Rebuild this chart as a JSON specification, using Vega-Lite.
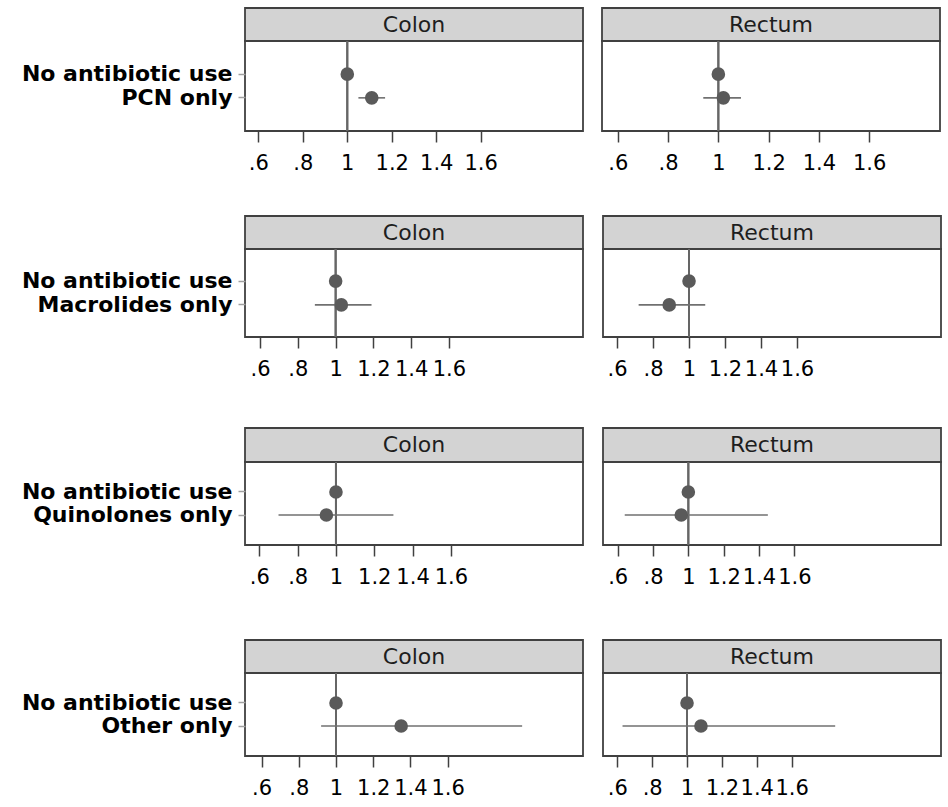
{
  "$schema": "https://vega.github.io/schema/vega-lite/v6.json",
  "background": "white",
  "padding": {"left": 20, "top": 7, "right": 5, "bottom": 8},
  "datasets": {
    "hr": [
      {"drug": "PCN", "site": "Colon", "group": "No antibiotic use", "hr": 1, "lo": null, "hi": null},
      {"drug": "PCN", "site": "Colon", "group": "PCN only", "hr": 1.11, "lo": 1.05, "hi": 1.17},
      {"drug": "PCN", "site": "Rectum", "group": "No antibiotic use", "hr": 1, "lo": null, "hi": null},
      {"drug": "PCN", "site": "Rectum", "group": "PCN only", "hr": 1.02, "lo": 0.94, "hi": 1.09},
      {"drug": "Macrolides", "site": "Colon", "group": "No antibiotic use", "hr": 1, "lo": null, "hi": null},
      {"drug": "Macrolides", "site": "Colon", "group": "Macrolides only", "hr": 1.03, "lo": 0.89, "hi": 1.19},
      {"drug": "Macrolides", "site": "Rectum", "group": "No antibiotic use", "hr": 1, "lo": null, "hi": null},
      {"drug": "Macrolides", "site": "Rectum", "group": "Macrolides only", "hr": 0.89, "lo": 0.72, "hi": 1.09},
      {"drug": "Quinolones", "site": "Colon", "group": "No antibiotic use", "hr": 1, "lo": null, "hi": null},
      {"drug": "Quinolones", "site": "Colon", "group": "Quinolones only", "hr": 0.95, "lo": 0.70, "hi": 1.30},
      {"drug": "Quinolones", "site": "Rectum", "group": "No antibiotic use", "hr": 1, "lo": null, "hi": null},
      {"drug": "Quinolones", "site": "Rectum", "group": "Quinolones only", "hr": 0.96, "lo": 0.64, "hi": 1.45},
      {"drug": "Other", "site": "Colon", "group": "No antibiotic use", "hr": 1, "lo": null, "hi": null},
      {"drug": "Other", "site": "Colon", "group": "Other only", "hr": 1.35, "lo": 0.92, "hi": 2.00},
      {"drug": "Other", "site": "Rectum", "group": "No antibiotic use", "hr": 1, "lo": null, "hi": null},
      {"drug": "Other", "site": "Rectum", "group": "Other only", "hr": 1.08, "lo": 0.63, "hi": 1.85}
    ]
  },
  "config": {
    "font": "DejaVu Sans",
    "view": {"stroke": null},
    "axis": {"grid": false, "domain": false},
    "axisX": {"tickSize": 11, "tickColor": "#404040", "tickWidth": 1.5, "labelFontSize": 21, "labelColor": "#000000", "labelPadding": 10, "labelFlush": false, "labelOverlap": false, "labelBound": false},
    "axisY": {"tickSize": 7, "tickColor": "#a0a0a0", "tickWidth": 1.5, "labelFontSize": 22, "labelFontWeight": "bold", "labelColor": "#000000", "labelPadding": 6, "labelLimit": 400}
  },
  "spacing": 41,
  "vconcat": [
    {
      "spacing": 17,
      "hconcat": [
        {
          "spacing": 0, "bounds": "flush",
          "vconcat": [
            {"width": 338, "height": 33, "view": {"fill": "#d3d3d3", "stroke": "#404040", "strokeWidth": 1.8},
             "data": {"name": "hr"},
             "transform": [{"filter": "datum.drug === 'PCN' && datum.site === 'Colon' && datum.lo === null"}],
             "mark": {"type": "text", "fontSize": 22, "color": "#1e1e1e", "baseline": "middle", "align": "center"},
             "encoding": {"text": {"field": "site"}}},
            {"width": 338, "height": 90, "view": {"fill": "#ffffff", "stroke": "#404040", "strokeWidth": 1.8},
             "data": {"name": "hr"},
             "transform": [{"filter": "datum.drug === 'PCN' && datum.site === 'Colon'"}],
             "layer": [
               {"mark": {"type": "rule", "color": "#666666", "strokeWidth": 2},
                "encoding": {"x": {"datum": 1, "type": "quantitative", "title": null, "scale": {"domain": [0.54, 2.06], "nice": false, "zero": false}, "axis": {"values": [0.6, 0.8, 1, 1.2, 1.4, 1.6], "labelExpr": "datum.value < 1 ? replace(format(datum.value, '.1f'), '0.', '.') : format(datum.value, '.1~f')"}}}},
               {"mark": {"type": "rule", "color": "#707070", "strokeWidth": 1.6},
                "encoding": {"x": {"field": "lo", "type": "quantitative", "title": null, "scale": {"domain": [0.54, 2.06], "nice": false, "zero": false}},
                             "x2": {"field": "hi"},
                             "y": {"field": "group", "type": "nominal", "sort": null, "title": null, "scale": {"type": "band", "domain": ["No antibiotic use", "PCN only"], "paddingInner": 0, "paddingOuter": 0.9}}}},
               {"mark": {"type": "circle", "size": 185, "color": "#5a5a5a", "opacity": 1},
                "encoding": {"x": {"field": "hr", "type": "quantitative", "title": null, "scale": {"domain": [0.54, 2.06], "nice": false, "zero": false}},
                             "y": {"field": "group", "type": "nominal", "sort": null, "title": null, "scale": {"type": "band", "domain": ["No antibiotic use", "PCN only"], "paddingInner": 0, "paddingOuter": 0.9}}}}
             ]}
          ]
        },
        {
          "spacing": 0, "bounds": "flush",
          "vconcat": [
            {"width": 338, "height": 33, "view": {"fill": "#d3d3d3", "stroke": "#404040", "strokeWidth": 1.8},
             "data": {"name": "hr"},
             "transform": [{"filter": "datum.drug === 'PCN' && datum.site === 'Rectum' && datum.lo === null"}],
             "mark": {"type": "text", "fontSize": 22, "color": "#1e1e1e", "baseline": "middle", "align": "center"},
             "encoding": {"text": {"field": "site"}}},
            {"width": 338, "height": 90, "view": {"fill": "#ffffff", "stroke": "#404040", "strokeWidth": 1.8},
             "data": {"name": "hr"},
             "transform": [{"filter": "datum.drug === 'PCN' && datum.site === 'Rectum'"}],
             "layer": [
               {"mark": {"type": "rule", "color": "#666666", "strokeWidth": 2},
                "encoding": {"x": {"datum": 1, "type": "quantitative", "title": null, "scale": {"domain": [0.537, 1.882], "nice": false, "zero": false}, "axis": {"values": [0.6, 0.8, 1, 1.2, 1.4, 1.6], "labelExpr": "datum.value < 1 ? replace(format(datum.value, '.1f'), '0.', '.') : format(datum.value, '.1~f')"}}}},
               {"mark": {"type": "rule", "color": "#707070", "strokeWidth": 1.6},
                "encoding": {"x": {"field": "lo", "type": "quantitative", "title": null, "scale": {"domain": [0.537, 1.882], "nice": false, "zero": false}},
                             "x2": {"field": "hi"},
                             "y": {"field": "group", "type": "nominal", "sort": null, "title": null, "axis": null, "scale": {"type": "band", "domain": ["No antibiotic use", "PCN only"], "paddingInner": 0, "paddingOuter": 0.9}}}},
               {"mark": {"type": "circle", "size": 185, "color": "#5a5a5a", "opacity": 1},
                "encoding": {"x": {"field": "hr", "type": "quantitative", "title": null, "scale": {"domain": [0.537, 1.882], "nice": false, "zero": false}},
                             "y": {"field": "group", "type": "nominal", "sort": null, "title": null, "axis": null, "scale": {"type": "band", "domain": ["No antibiotic use", "PCN only"], "paddingInner": 0, "paddingOuter": 0.9}}}}
             ]}
          ]
        }
      ]
    },
    {
      "spacing": 47,
      "vconcat": [
        {
          "spacing": 18,
          "hconcat": [
            {
              "spacing": 0, "bounds": "flush",
              "vconcat": [
                {"width": 338, "height": 33, "view": {"fill": "#d3d3d3", "stroke": "#404040", "strokeWidth": 1.8},
                 "data": {"name": "hr"},
                 "transform": [{"filter": "datum.drug === 'Macrolides' && datum.site === 'Colon' && datum.lo === null"}],
                 "mark": {"type": "text", "fontSize": 22, "color": "#1e1e1e", "baseline": "middle", "align": "center"},
                 "encoding": {"text": {"field": "site"}}},
                {"width": 338, "height": 88, "view": {"fill": "#ffffff", "stroke": "#404040", "strokeWidth": 1.8},
                 "data": {"name": "hr"},
                 "transform": [{"filter": "datum.drug === 'Macrolides' && datum.site === 'Colon'"}],
                 "layer": [
                   {"mark": {"type": "rule", "color": "#666666", "strokeWidth": 2},
                    "encoding": {"x": {"datum": 1, "type": "quantitative", "title": null, "scale": {"domain": [0.52, 2.31], "nice": false, "zero": false}, "axis": {"values": [0.6, 0.8, 1, 1.2, 1.4, 1.6], "labelExpr": "datum.value < 1 ? replace(format(datum.value, '.1f'), '0.', '.') : format(datum.value, '.1~f')"}}}},
                   {"mark": {"type": "rule", "color": "#707070", "strokeWidth": 1.6},
                    "encoding": {"x": {"field": "lo", "type": "quantitative", "title": null, "scale": {"domain": [0.52, 2.31], "nice": false, "zero": false}},
                                 "x2": {"field": "hi"},
                                 "y": {"field": "group", "type": "nominal", "sort": null, "title": null, "scale": {"type": "band", "domain": ["No antibiotic use", "Macrolides only"], "paddingInner": 0, "paddingOuter": 0.85}}}},
                   {"mark": {"type": "circle", "size": 185, "color": "#5a5a5a", "opacity": 1},
                    "encoding": {"x": {"field": "hr", "type": "quantitative", "title": null, "scale": {"domain": [0.52, 2.31], "nice": false, "zero": false}},
                                 "y": {"field": "group", "type": "nominal", "sort": null, "title": null, "scale": {"type": "band", "domain": ["No antibiotic use", "Macrolides only"], "paddingInner": 0, "paddingOuter": 0.85}}}}
                 ]}
              ]
            },
            {
              "spacing": 0, "bounds": "flush",
              "vconcat": [
                {"width": 338, "height": 33, "view": {"fill": "#d3d3d3", "stroke": "#404040", "strokeWidth": 1.8},
                 "data": {"name": "hr"},
                 "transform": [{"filter": "datum.drug === 'Macrolides' && datum.site === 'Rectum' && datum.lo === null"}],
                 "mark": {"type": "text", "fontSize": 22, "color": "#1e1e1e", "baseline": "middle", "align": "center"},
                 "encoding": {"text": {"field": "site"}}},
                {"width": 338, "height": 88, "view": {"fill": "#ffffff", "stroke": "#404040", "strokeWidth": 1.8},
                 "data": {"name": "hr"},
                 "transform": [{"filter": "datum.drug === 'Macrolides' && datum.site === 'Rectum'"}],
                 "layer": [
                   {"mark": {"type": "rule", "color": "#666666", "strokeWidth": 2},
                    "encoding": {"x": {"datum": 1, "type": "quantitative", "title": null, "scale": {"domain": [0.522, 2.40], "nice": false, "zero": false}, "axis": {"values": [0.6, 0.8, 1, 1.2, 1.4, 1.6], "labelExpr": "datum.value < 1 ? replace(format(datum.value, '.1f'), '0.', '.') : format(datum.value, '.1~f')"}}}},
                   {"mark": {"type": "rule", "color": "#707070", "strokeWidth": 1.6},
                    "encoding": {"x": {"field": "lo", "type": "quantitative", "title": null, "scale": {"domain": [0.522, 2.40], "nice": false, "zero": false}},
                                 "x2": {"field": "hi"},
                                 "y": {"field": "group", "type": "nominal", "sort": null, "title": null, "axis": null, "scale": {"type": "band", "domain": ["No antibiotic use", "Macrolides only"], "paddingInner": 0, "paddingOuter": 0.85}}}},
                   {"mark": {"type": "circle", "size": 185, "color": "#5a5a5a", "opacity": 1},
                    "encoding": {"x": {"field": "hr", "type": "quantitative", "title": null, "scale": {"domain": [0.522, 2.40], "nice": false, "zero": false}},
                                 "y": {"field": "group", "type": "nominal", "sort": null, "title": null, "axis": null, "scale": {"type": "band", "domain": ["No antibiotic use", "Macrolides only"], "paddingInner": 0, "paddingOuter": 0.85}}}}
                 ]}
              ]
            }
          ]
        },
        {
          "spacing": 51,
          "vconcat": [
            {
              "spacing": 18,
              "hconcat": [
                {
                  "spacing": 0, "bounds": "flush",
                  "vconcat": [
                    {"width": 338, "height": 34, "view": {"fill": "#d3d3d3", "stroke": "#404040", "strokeWidth": 1.8},
                     "data": {"name": "hr"},
                     "transform": [{"filter": "datum.drug === 'Quinolones' && datum.site === 'Colon' && datum.lo === null"}],
                     "mark": {"type": "text", "fontSize": 22, "color": "#1e1e1e", "baseline": "middle", "align": "center"},
                     "encoding": {"text": {"field": "site"}}},
                    {"width": 338, "height": 83, "view": {"fill": "#ffffff", "stroke": "#404040", "strokeWidth": 1.8},
                     "data": {"name": "hr"},
                     "transform": [{"filter": "datum.drug === 'Quinolones' && datum.site === 'Colon'"}],
                     "layer": [
                       {"mark": {"type": "rule", "color": "#666666", "strokeWidth": 2},
                        "encoding": {"x": {"datum": 1, "type": "quantitative", "title": null, "scale": {"domain": [0.525, 2.29], "nice": false, "zero": false}, "axis": {"values": [0.6, 0.8, 1, 1.2, 1.4, 1.6], "labelExpr": "datum.value < 1 ? replace(format(datum.value, '.1f'), '0.', '.') : format(datum.value, '.1~f')"}}}},
                       {"mark": {"type": "rule", "color": "#707070", "strokeWidth": 1.6},
                        "encoding": {"x": {"field": "lo", "type": "quantitative", "title": null, "scale": {"domain": [0.525, 2.29], "nice": false, "zero": false}},
                                     "x2": {"field": "hi"},
                                     "y": {"field": "group", "type": "nominal", "sort": null, "title": null, "scale": {"type": "band", "domain": ["No antibiotic use", "Quinolones only"], "paddingInner": 0, "paddingOuter": 0.8}}}},
                       {"mark": {"type": "circle", "size": 185, "color": "#5a5a5a", "opacity": 1},
                        "encoding": {"x": {"field": "hr", "type": "quantitative", "title": null, "scale": {"domain": [0.525, 2.29], "nice": false, "zero": false}},
                                     "y": {"field": "group", "type": "nominal", "sort": null, "title": null, "scale": {"type": "band", "domain": ["No antibiotic use", "Quinolones only"], "paddingInner": 0, "paddingOuter": 0.8}}}}
                     ]}
                  ]
                },
                {
                  "spacing": 0, "bounds": "flush",
                  "vconcat": [
                    {"width": 338, "height": 34, "view": {"fill": "#d3d3d3", "stroke": "#404040", "strokeWidth": 1.8},
                     "data": {"name": "hr"},
                     "transform": [{"filter": "datum.drug === 'Quinolones' && datum.site === 'Rectum' && datum.lo === null"}],
                     "mark": {"type": "text", "fontSize": 22, "color": "#1e1e1e", "baseline": "middle", "align": "center"},
                     "encoding": {"text": {"field": "site"}}},
                    {"width": 338, "height": 83, "view": {"fill": "#ffffff", "stroke": "#404040", "strokeWidth": 1.8},
                     "data": {"name": "hr"},
                     "transform": [{"filter": "datum.drug === 'Quinolones' && datum.site === 'Rectum'"}],
                     "layer": [
                       {"mark": {"type": "rule", "color": "#666666", "strokeWidth": 2},
                        "encoding": {"x": {"datum": 1, "type": "quantitative", "title": null, "scale": {"domain": [0.517, 2.43], "nice": false, "zero": false}, "axis": {"values": [0.6, 0.8, 1, 1.2, 1.4, 1.6], "labelExpr": "datum.value < 1 ? replace(format(datum.value, '.1f'), '0.', '.') : format(datum.value, '.1~f')"}}}},
                       {"mark": {"type": "rule", "color": "#707070", "strokeWidth": 1.6},
                        "encoding": {"x": {"field": "lo", "type": "quantitative", "title": null, "scale": {"domain": [0.517, 2.43], "nice": false, "zero": false}},
                                     "x2": {"field": "hi"},
                                     "y": {"field": "group", "type": "nominal", "sort": null, "title": null, "axis": null, "scale": {"type": "band", "domain": ["No antibiotic use", "Quinolones only"], "paddingInner": 0, "paddingOuter": 0.8}}}},
                       {"mark": {"type": "circle", "size": 185, "color": "#5a5a5a", "opacity": 1},
                        "encoding": {"x": {"field": "hr", "type": "quantitative", "title": null, "scale": {"domain": [0.517, 2.43], "nice": false, "zero": false}},
                                     "y": {"field": "group", "type": "nominal", "sort": null, "title": null, "axis": null, "scale": {"type": "band", "domain": ["No antibiotic use", "Quinolones only"], "paddingInner": 0, "paddingOuter": 0.8}}}}
                     ]}
                  ]
                }
              ]
            },
            {
              "spacing": 18,
              "hconcat": [
                {
                  "spacing": 0, "bounds": "flush",
                  "vconcat": [
                    {"width": 338, "height": 33, "view": {"fill": "#d3d3d3", "stroke": "#404040", "strokeWidth": 1.8},
                     "data": {"name": "hr"},
                     "transform": [{"filter": "datum.drug === 'Other' && datum.site === 'Colon' && datum.lo === null"}],
                     "mark": {"type": "text", "fontSize": 22, "color": "#1e1e1e", "baseline": "middle", "align": "center"},
                     "encoding": {"text": {"field": "site"}}},
                    {"width": 338, "height": 83, "view": {"fill": "#ffffff", "stroke": "#404040", "strokeWidth": 1.8},
                     "data": {"name": "hr"},
                     "transform": [{"filter": "datum.drug === 'Other' && datum.site === 'Colon'"}],
                     "layer": [
                       {"mark": {"type": "rule", "color": "#666666", "strokeWidth": 2},
                        "encoding": {"x": {"datum": 1, "type": "quantitative", "title": null, "scale": {"domain": [0.511, 2.327], "nice": false, "zero": false}, "axis": {"values": [0.6, 0.8, 1, 1.2, 1.4, 1.6], "labelExpr": "datum.value < 1 ? replace(format(datum.value, '.1f'), '0.', '.') : format(datum.value, '.1~f')"}}}},
                       {"mark": {"type": "rule", "color": "#707070", "strokeWidth": 1.6},
                        "encoding": {"x": {"field": "lo", "type": "quantitative", "title": null, "scale": {"domain": [0.511, 2.327], "nice": false, "zero": false}},
                                     "x2": {"field": "hi"},
                                     "y": {"field": "group", "type": "nominal", "sort": null, "title": null, "scale": {"type": "band", "domain": ["No antibiotic use", "Other only"], "paddingInner": 0, "paddingOuter": 0.8}}}},
                       {"mark": {"type": "circle", "size": 185, "color": "#5a5a5a", "opacity": 1},
                        "encoding": {"x": {"field": "hr", "type": "quantitative", "title": null, "scale": {"domain": [0.511, 2.327], "nice": false, "zero": false}},
                                     "y": {"field": "group", "type": "nominal", "sort": null, "title": null, "scale": {"type": "band", "domain": ["No antibiotic use", "Other only"], "paddingInner": 0, "paddingOuter": 0.8}}}}
                     ]}
                  ]
                },
                {
                  "spacing": 0, "bounds": "flush",
                  "vconcat": [
                    {"width": 338, "height": 33, "view": {"fill": "#d3d3d3", "stroke": "#404040", "strokeWidth": 1.8},
                     "data": {"name": "hr"},
                     "transform": [{"filter": "datum.drug === 'Other' && datum.site === 'Rectum' && datum.lo === null"}],
                     "mark": {"type": "text", "fontSize": 22, "color": "#1e1e1e", "baseline": "middle", "align": "center"},
                     "encoding": {"text": {"field": "site"}}},
                    {"width": 338, "height": 83, "view": {"fill": "#ffffff", "stroke": "#404040", "strokeWidth": 1.8},
                     "data": {"name": "hr"},
                     "transform": [{"filter": "datum.drug === 'Other' && datum.site === 'Rectum'"}],
                     "layer": [
                       {"mark": {"type": "rule", "color": "#666666", "strokeWidth": 2},
                        "encoding": {"x": {"datum": 1, "type": "quantitative", "title": null, "scale": {"domain": [0.518, 2.457], "nice": false, "zero": false}, "axis": {"values": [0.6, 0.8, 1, 1.2, 1.4, 1.6], "labelExpr": "datum.value < 1 ? replace(format(datum.value, '.1f'), '0.', '.') : format(datum.value, '.1~f')"}}}},
                       {"mark": {"type": "rule", "color": "#707070", "strokeWidth": 1.6},
                        "encoding": {"x": {"field": "lo", "type": "quantitative", "title": null, "scale": {"domain": [0.518, 2.457], "nice": false, "zero": false}},
                                     "x2": {"field": "hi"},
                                     "y": {"field": "group", "type": "nominal", "sort": null, "title": null, "axis": null, "scale": {"type": "band", "domain": ["No antibiotic use", "Other only"], "paddingInner": 0, "paddingOuter": 0.8}}}},
                       {"mark": {"type": "circle", "size": 185, "color": "#5a5a5a", "opacity": 1},
                        "encoding": {"x": {"field": "hr", "type": "quantitative", "title": null, "scale": {"domain": [0.518, 2.457], "nice": false, "zero": false}},
                                     "y": {"field": "group", "type": "nominal", "sort": null, "title": null, "axis": null, "scale": {"type": "band", "domain": ["No antibiotic use", "Other only"], "paddingInner": 0, "paddingOuter": 0.8}}}}
                     ]}
                  ]
                }
              ]
            }
          ]
        }
      ]
    }
  ]
}
